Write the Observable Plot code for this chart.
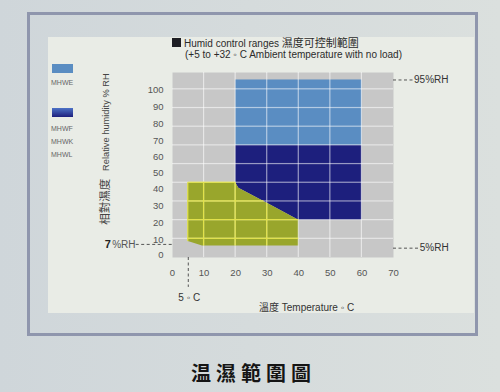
<!DOCTYPE html>
<html><head><meta charset="utf-8">
<script src="https://cdn.jsdelivr.net/npm/d3@7"></script>
<script src="https://cdn.jsdelivr.net/npm/@observablehq/plot@0.6"></script>
<style>
body{margin:0;background:#d5dbdd}
#page{position:relative;width:500px;height:392px;overflow:hidden;background:linear-gradient(90deg,#cfd6da,#dbe0de);font-family:"Liberation Sans",Arial,sans-serif;color:#333}
.abs{position:absolute;white-space:nowrap}
.cjk{font-family:"Noto Sans CJK TC","Noto Sans CJK SC",sans-serif}
#frame{left:27px;top:12px;width:451px;height:324px;border:3px solid #8f96ad;box-sizing:border-box}
#panel{left:48px;top:37px;width:426px;height:276px;background:#e9ece6}
#chart{left:0;top:0;width:500px;height:392px}
</style></head>
<body>
<div id="page">
  <div id="frame" class="abs"></div>
  <div id="panel" class="abs"></div>
  <div id="chart" class="abs"></div>
  <div class="abs" style="left:172px;top:38px;width:9px;height:9px;background:#1e1e24"></div>
  <div class="abs" style="left:184px;top:35px;font-size:10px;line-height:14px;color:#2b2b2b">Humid control ranges <span class="cjk" style="font-size:11px">濕度可控制範圍</span></div>
  <div class="abs" style="left:185px;top:49px;font-size:10px;line-height:12px;color:#2b2b2b">(+5 to +32 ◦ C Ambient temperature with no load)</div>
  <div class="abs" style="left:52px;top:64px;width:21px;height:9px;background:#5a8dc2"></div>
  <div class="abs" style="left:51px;top:79px;font-size:7px;color:#666">MHWE</div>
  <div class="abs" style="left:52px;top:108px;width:21px;height:9px;background:linear-gradient(#4d72c6,#1d1f7d)"></div>
  <div class="abs" style="left:51px;top:122px;font-size:7px;line-height:13px;color:#666">MHWF<br>MHWK<br>MHWL</div>
  <div class="abs" style="left:104px;top:149px;transform:translate(-50%,-50%) rotate(-90deg);font-size:9.3px;color:#444"><span class="cjk" style="font-size:11.5px">相對濕度</span>&nbsp;&nbsp;&nbsp;Relative humidity % RH</div>
  <div class="abs" style="left:259px;top:299px;font-size:10px;color:#333"><span class="cjk">溫度</span> Temperature ◦ C</div>
  <div class="abs cjk" style="left:191px;top:358px;font-size:20px;letter-spacing:5px;font-weight:700;color:#151515">温濕範圍圖</div>
</div>
<script>
const xTicks = [0, 10, 20, 30, 40, 50, 60, 70];
const xGrid = [10, 20, 30, 40, 50, 60];
const yGrid = [10, 20, 30, 40, 50, 60, 70, 80, 90];
const yTickLabels = [0, 10, 20, 30, 40, 50, 60, 70, 80, 90, 100];
const yTickPos = [1.6, 9.6, 18.7, 27.8, 36.9, 45.5, 54.0, 62.6, 71.2, 80.3, 89.4];

// MHWE range (light blue)
const mhweRange = [{x1: 20, x2: 60, y1: 60, y2: 95}];
// MHWF / MHWK / MHWL range (dark blue): temperature, lower RH, upper RH
const mhwfT = [20, 21, 30, 40, 60];
const mhwfLo = [40, 37, 29, 20, 20];
const mhwfHi = [60, 60, 60, 60, 60];
// Yellow range
const lowT = [5, 9.5, 20, 21, 30, 40];
const lowLo = [8.5, 6.2, 6.2, 6.2, 6.2, 6.2];
const lowHi = [40, 40, 40, 37, 29, 20];
// grid lines inside the yellow range
const yellowH = [{y: 10, x1: 5, x2: 40}, {y: 20, x1: 5, x2: 40}, {y: 30, x1: 5, x2: 29}, {y: 40, x1: 5, x2: 20}];
const yellowV = [{x: 5, y1: 8.5, y2: 40}, {x: 10, y1: 6.2, y2: 40}, {x: 20, y1: 6.2, y2: 40}, {x: 30, y1: 6.2, y2: 29}];

const mhwf = mhwfT.map((t, i) => ({t, lo: mhwfLo[i], hi: mhwfHi[i]}));
const low = lowT.map((t, i) => ({t, lo: lowLo[i], hi: lowHi[i]}));
const yLabels = yTickLabels.map((label, i) => ({label, pos: yTickPos[i]}));

const xDomain = [0, 70];
const yDomain = [0, 99];
const dash = {stroke: "#444", strokeWidth: 0.9, strokeDasharray: "3,2.5"};
// thin filled bars used as grid lines (1px wide via negative insets)
const vLine = {insetLeft: -0.6, insetRight: -0.6};
const hLine = {insetTop: -0.6, insetBottom: -0.6};
const gridFill = {fill: "#ffffff", fillOpacity: 0.55};
const yellowFill = {fill: "#e2e24a"};

const chart = Plot.plot({
  width: 500, height: 392,
  marginLeft: 172, marginRight: 107, marginTop: 72, marginBottom: 135,
  x: {domain: xDomain, axis: null},
  y: {domain: yDomain, axis: null},
  style: {background: "transparent", fontFamily: "Liberation Sans, Arial, sans-serif", overflow: "visible"},
  marks: [
    Plot.frame({fill: "#c7c7c7", stroke: "none"}),
    Plot.rect(mhweRange, {x1: "x1", x2: "x2", y1: "y1", y2: "y2", fill: "#5a8dc2"}),
    Plot.areaY(mhwf, {x: "t", y1: "lo", y2: "hi", fill: "#1d1f7d"}),
    Plot.areaY(low, {x: "t", y1: "lo", y2: "hi", fill: "#99a62c"}),
    Plot.rect(xGrid, {x1: d => d, x2: d => d, y1: () => yDomain[0], y2: () => yDomain[1], ...vLine, ...gridFill}),
    Plot.rect(yGrid, {y1: d => d, y2: d => d, x1: () => xDomain[0], x2: () => xDomain[1], ...hLine, ...gridFill}),
    Plot.rect(yellowH, {y1: "y", y2: "y", x1: "x1", x2: "x2", ...hLine, ...yellowFill}),
    Plot.rect(yellowV, {x1: "x", x2: "x", y1: "y1", y2: "y2", ...vLine, ...yellowFill}),
    Plot.text(xTicks, {x: d => d, y: () => 0, dy: 15, text: d => String(d), fontSize: 9.5, fill: "#555"}),
    Plot.text(yLabels, {x: () => 0, y: "pos", dx: -9, text: d => String(d.label), textAnchor: "end", fontSize: 9.5, fill: "#555"}),
    // annotations
    Plot.ruleY([95], {x1: () => 70, x2: () => 76.3, ...dash}),
    Plot.text([95], {x: () => 76.5, y: d => d, text: () => "95%RH", textAnchor: "start", fontSize: 10, fill: "#333"}),
    Plot.ruleY([5], {x1: () => 70, x2: () => 78, ...dash}),
    Plot.text([5], {x: () => 78.3, y: d => d, text: () => "5%RH", textAnchor: "start", fontSize: 10, fill: "#333"}),
    Plot.ruleY([7], {x1: () => -11.5, x2: () => 0, ...dash}),
    Plot.text([7], {x: () => -11.7, y: d => d, text: () => "%RH", textAnchor: "end", fontSize: 10, fill: "#555"}),
    Plot.text([7], {x: () => -19.5, y: d => d, text: d => String(d), textAnchor: "end", fontSize: 11, fontWeight: "bold", fill: "#222"}),
    Plot.ruleX([5], {y1: () => 0, y2: () => -16, ...dash}),
    Plot.text([5], {x: d => d + 0.3, y: () => -21.5, text: d => d + " ◦ C", fontSize: 10, fill: "#333"})
  ]
});
document.getElementById("chart").appendChild(chart);
</script>
</body></html>
